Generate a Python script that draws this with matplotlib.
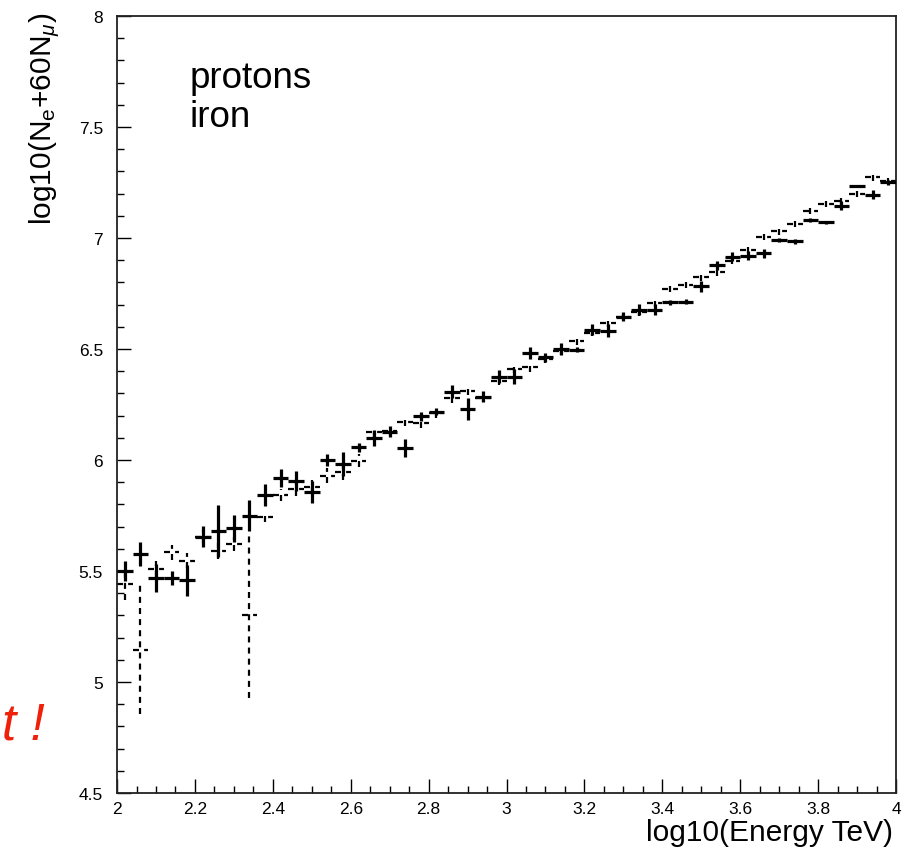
"""Shower size vs energy for protons and iron (ROOT-style reproduction)."""
import matplotlib
matplotlib.use("Agg")
import matplotlib.pyplot as plt
from matplotlib.ticker import MultipleLocator, FormatStrFormatter

plt.rcParams["font.family"] = ["Liberation Sans", "DejaVu Sans"]
plt.rcParams["mathtext.fontset"] = "custom"
plt.rcParams["mathtext.rm"] = "Liberation Sans"
plt.rcParams["mathtext.it"] = "Liberation Sans:italic"

# bin centres, log10(E / TeV)
log_energy = [2.02, 2.06, 2.10, 2.14, 2.18, 2.22, 2.26, 2.30, 2.34, 2.38,
              2.42, 2.46, 2.50, 2.54, 2.58, 2.62, 2.66, 2.70, 2.74, 2.78,
              2.82, 2.86, 2.90, 2.94, 2.98, 3.02, 3.06, 3.10, 3.14, 3.18,
              3.22, 3.26, 3.30, 3.34, 3.38, 3.42, 3.46, 3.50, 3.54, 3.58,
              3.62, 3.66, 3.70, 3.74, 3.78, 3.82, 3.86, 3.90, 3.94, 3.98]
bin_half = [0.02] * 50

protons = [5.500, 5.577, 5.468, 5.468, 5.459, 5.655, 5.679, 5.692, 5.749, 5.842,
           5.918, 5.907, 5.855, 6.000, 5.982, 6.057, 6.098, 6.127, 6.054, 6.197,
           6.218, 6.308, 6.230, 6.285, 6.375, 6.375, 6.482, 6.463, 6.500, 6.497,
           6.587, 6.582, 6.646, 6.676, 6.677, 6.710, 6.713, 6.783, 6.877, 6.915,
           6.920, 6.932, 6.992, 6.985, 7.082, 7.070, 7.145, 7.236, 7.194, 7.250]
protons_err = [0.047, 0.053, 0.063, 0.030, 0.070, 0.048, 0.117, 0.060, 0.070, 0.050,
               0.040, 0.045, 0.050, 0.027, 0.055, 0.020, 0.035, 0.025, 0.040, 0.020,
               0.015, 0.030, 0.050, 0.025, 0.030, 0.035, 0.027, 0.020, 0.025, 0.010,
               0.025, 0.030, 0.020, 0.025, 0.025, 0.010, 0.010, 0.025, 0.020, 0.020,
               0.020, 0.020, 0.010, 0.010, 0.010, 0.008, 0.020, 0.003, 0.020, 0.010]

iron = [5.441, 5.145, 5.509, 5.584, 5.547, 5.655, 5.591, 5.622, 5.300, 5.745,
        5.842, 5.869, 5.880, 5.930, 5.945, 5.997, 6.125, 6.130, 6.173, 6.165,
        6.210, 6.278, 6.312, 6.280, 6.357, 6.410, 6.418, 6.455, 6.490, 6.537,
        6.572, 6.616, 6.645, 6.665, 6.706, 6.770, 6.788, 6.823, 6.845, 6.898,
        6.946, 7.006, 7.030, 7.063, 7.123, 7.153, 7.168, 7.200, 7.273, 7.258]
iron_err = [0.070, 0.290, 0.035, 0.035, 0.035, 0.030, 0.035, 0.030, 0.370, 0.025,
            0.025, 0.030, 0.030, 0.035, 0.035, 0.030, 0.020, 0.020, 0.020, 0.020,
            0.020, 0.020, 0.020, 0.020, 0.020, 0.020, 0.020, 0.020, 0.015, 0.020,
            0.015, 0.015, 0.015, 0.015, 0.015, 0.015, 0.015, 0.015, 0.015, 0.015,
            0.015, 0.015, 0.015, 0.015, 0.015, 0.015, 0.015, 0.015, 0.015, 0.015]

fig = plt.figure(figsize=(9.08, 8.53), dpi=100)
ax = fig.add_axes([0.1289, 0.0692, 0.8579, 0.9109])

# iron: dashed crosses
eb = ax.errorbar(log_energy, iron, xerr=bin_half, yerr=iron_err, fmt="none",
                 ecolor="black", elinewidth=1.6, capsize=0, zorder=2)
eb[2][0].set_linestyle((0, (2.7, 2.3)))
eb[2][1].set_linestyle((0, (2.7, 2.3)))

# protons: solid crosses
ax.errorbar(log_energy, protons, xerr=bin_half, yerr=protons_err, fmt="none",
            ecolor="black", elinewidth=2.3, capsize=0, zorder=3)

ax.set_xlim(2, 4)
ax.set_ylim(4.5, 8)
ax.xaxis.set_major_locator(MultipleLocator(0.2))
ax.xaxis.set_minor_locator(MultipleLocator(0.05))
ax.yaxis.set_major_locator(MultipleLocator(0.5))
ax.yaxis.set_minor_locator(MultipleLocator(0.1))
ax.xaxis.set_major_formatter(FormatStrFormatter("%g"))
ax.yaxis.set_major_formatter(FormatStrFormatter("%g"))
ax.tick_params(which="both", direction="in", top=False, right=False, width=1.0)
ax.tick_params(which="major", length=10, labelsize=12.5)
ax.tick_params(axis="x", which="major", pad=6)
ax.tick_params(axis="y", which="major", pad=10)
ax.tick_params(which="minor", length=5)
for s in ax.spines.values():
    s.set_linewidth(1.3)
    s.set_color("#222222")

ax.text(2.187, 7.80, "protons\niron", fontsize=26.5, ha="left", va="top",
        linespacing=1.15)

ax.text(0.996, -0.05, "log10(Energy TeV)", transform=ax.transAxes,
        fontsize=21.5, ha="right", va="center")
ax.text(-0.0924, 1.006, r"log10(N$_{\rm e}$+60N$_{\mu}$)", transform=ax.transAxes,
        fontsize=21.5, rotation=90, ha="center", va="top")

fig.text(0.0496, 0.1325, "t !", fontsize=37, style="italic", color="#f0200a",
         ha="right", va="baseline")

fig.savefig("out.png", dpi=100)
